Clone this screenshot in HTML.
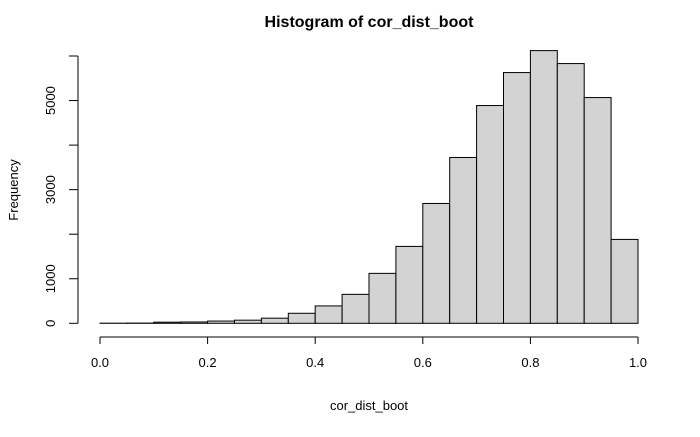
<!DOCTYPE html>
<html><head><meta charset="utf-8"><style>
html,body{margin:0;padding:0;background:#fff;}
svg text{font-family:"Liberation Sans",Arial,sans-serif;fill:#000;}
</style></head><body>
<svg id="chart" width="700" height="432" viewBox="0 0 700 432">
<text x="369" y="27" text-anchor="middle" font-size="16" font-weight="bold">Histogram of cor_dist_boot</text>
<text x="369" y="410" text-anchor="middle" font-size="13">cor_dist_boot</text>
<text x="18" y="190" text-anchor="middle" font-size="13" transform="rotate(-90 18 190)">Frequency</text>
<g id="bars"></g><g id="axes"></g>
</svg>
<script>
const binStarts=[0,0.05,0.1,0.15,0.2,0.25,0.3,0.35,0.4,0.45,0.5,0.55,0.6,0.65,0.7,0.75,0.8,0.85,0.9,0.95];
const counts=[3,5,25,30,50,70,115,225,390,650,1121,1726,2690,3722,4888,5628,6121,5830,5067,1883];
const xTicks=[0,0.2,0.4,0.6,0.8,1.0];
const xTickLabels=["0.0","0.2","0.4","0.6","0.8","1.0"];
const yTicks=[0,1000,2000,3000,4000,5000,6000];
const yTickLabels=["0","1000","","3000","","5000",""];
const binWidth=0.05;
const NS="http://www.w3.org/2000/svg";
const xs=v=>100+v*538;
const ys=v=>323.3-v*0.04455;
const bars=document.getElementById('bars'),axes=document.getElementById('axes');
function mk(tag,attrs,parent){const e=document.createElementNS(NS,tag);for(const k in attrs)e.setAttribute(k,attrs[k]);parent.appendChild(e);return e;}
binStarts.forEach((b,i)=>{
  const r=mk('rect',{x:xs(b),y:ys(counts[i]),width:xs(b+binWidth)-xs(b),height:ys(0)-ys(counts[i]),fill:'#d3d3d3',stroke:'#000','stroke-width':1},bars);
  
  
});
const xl=mk('line',{x1:xs(xTicks[0]),x2:xs(xTicks[xTicks.length-1]),y1:337,y2:337,stroke:'#000'},axes);


xTicks.forEach((t,i)=>{
  mk('line',{x1:xs(t),x2:xs(t),y1:337,y2:344,stroke:'#000'},axes);
  const tx=mk('text',{x:xs(t),y:367,'text-anchor':'middle','font-size':13},axes);
  tx.textContent=xTickLabels[i];
  
  
});
const yl=mk('line',{x1:78,x2:78,y1:ys(yTicks[0]),y2:ys(yTicks[yTicks.length-1]),stroke:'#000'},axes);


yTicks.forEach((t,i)=>{
  mk('line',{x1:69,x2:78,y1:ys(t),y2:ys(t),stroke:'#000'},axes);
  if(yTickLabels[i]){
    const y=ys(t);
    const tx=mk('text',{x:55,y:y,'text-anchor':'middle','font-size':13,transform:'rotate(-90 55 '+y+')'},axes);
    tx.textContent=yTickLabels[i];
    
    
  }
});
</script>
</body></html>
